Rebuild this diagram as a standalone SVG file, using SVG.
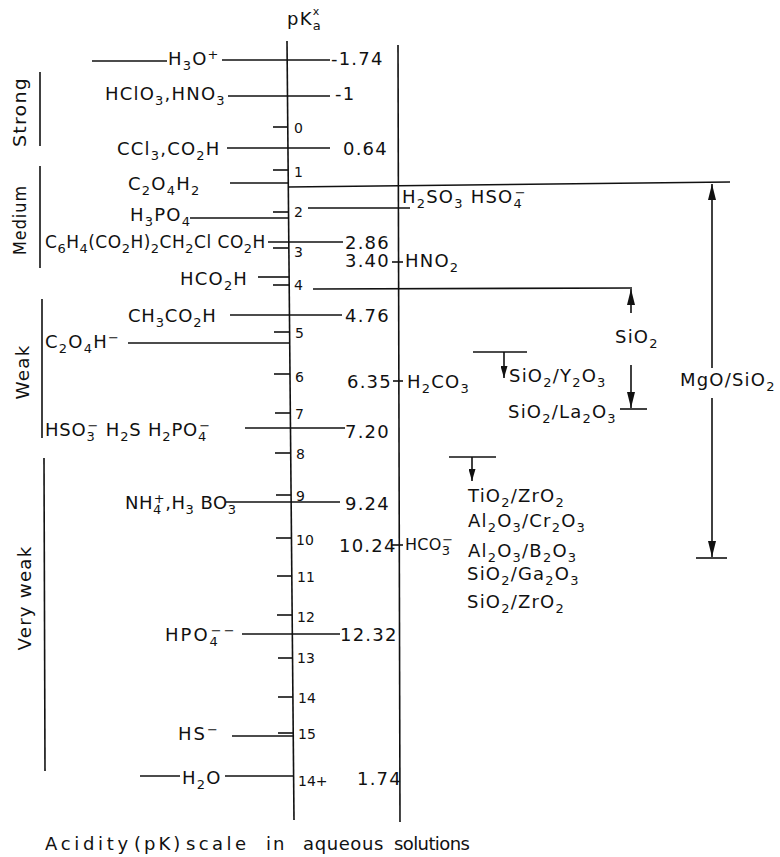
<svg xmlns="http://www.w3.org/2000/svg" width="780" height="857" viewBox="0 0 780 857">
<style>
  .t { font-family: "DejaVu Sans", "Liberation Sans", sans-serif; font-size: 18px; letter-spacing: 1.2px; fill: #111; }
  .n { font-family: "DejaVu Sans", "Liberation Sans", sans-serif; font-size: 14px; fill: #111; }
  .s { font-size: 13px; }
  .ss { font-size: 11px; }
  .cap { font-family: "DejaVu Sans", "Liberation Sans", sans-serif; font-size: 18px; fill: #111; }
  line, path.l { stroke: #111; stroke-width: 1.6; fill: none; }
</style>
<defs>
  <marker id="arr" viewBox="0 0 16 8" refX="16" refY="4" markerWidth="16" markerHeight="8" markerUnits="userSpaceOnUse" orient="auto">
    <path d="M0,0 L16,4 L0,8 z" fill="#111"/>
  </marker>
  <marker id="arrS" viewBox="0 0 12 7" refX="12" refY="3.5" markerWidth="12" markerHeight="7" markerUnits="userSpaceOnUse" orient="auto">
    <path d="M0,0 L12,3.5 L0,7 z" fill="#111"/>
  </marker>
</defs>
<rect width="780" height="857" fill="#fff"/>

<!-- axis title -->
<g id="axis-title">
  <text class="t" x="287" y="25">pK<tspan class="s" dy="5">a</tspan><tspan class="ss" dx="-9" dy="-15">x</tspan></text>
</g>

<!-- axes and ticks -->
<g id="axes">
  <line x1="287" y1="41" x2="294" y2="820"/>
  <line x1="398" y1="45" x2="400" y2="822"/>
  <line x1="273" y1="127" x2="287.8" y2="127"/>
  <line x1="273" y1="170" x2="288.2" y2="170"/>
  <line x1="273" y1="212" x2="288.5" y2="212"/>
  <line x1="273" y1="248" x2="288.9" y2="248"/>
  <line x1="273" y1="285" x2="289.2" y2="285"/>
  <line x1="274" y1="332" x2="289.6" y2="332"/>
  <line x1="274" y1="374" x2="290" y2="374"/>
  <line x1="275" y1="413" x2="290.3" y2="413"/>
  <line x1="275" y1="453" x2="290.7" y2="453"/>
  <line x1="276" y1="495" x2="291.1" y2="495"/>
  <line x1="276" y1="538" x2="291.5" y2="538"/>
  <line x1="277" y1="576" x2="291.8" y2="576"/>
  <line x1="277" y1="615" x2="292.2" y2="615"/>
  <line x1="278" y1="658" x2="292.5" y2="658"/>
  <line x1="278" y1="697" x2="292.9" y2="697"/>
  <line x1="278" y1="733" x2="293.2" y2="733"/>
  <text class="n" x="294" y="133">0</text>
  <text class="n" x="294" y="177">1</text>
  <text class="n" x="294" y="217">2</text>
  <text class="n" x="294" y="257">3</text>
  <text class="n" x="294" y="290">4</text>
  <text class="n" x="295" y="338">5</text>
  <text class="n" x="295" y="382">6</text>
  <text class="n" x="295" y="419">7</text>
  <text class="n" x="296" y="459">8</text>
  <text class="n" x="296" y="501">9</text>
  <text class="n" x="296" y="545">10</text>
  <text class="n" x="297" y="582">11</text>
  <text class="n" x="297" y="622">12</text>
  <text class="n" x="297" y="663">13</text>
  <text class="n" x="298" y="703">14</text>
  <text class="n" x="298" y="739">15</text>
  <text class="n" x="298" y="786">14+</text>
</g>

<!-- category brackets -->
<g id="categories">
  <line x1="40" y1="72" x2="40" y2="146"/>
  <line x1="40" y1="166" x2="40" y2="268"/>
  <line x1="42" y1="299" x2="42" y2="438"/>
  <line x1="44" y1="458" x2="45" y2="771"/>
  <text class="t" transform="translate(26,112) rotate(-90)" text-anchor="middle" textLength="70" lengthAdjust="spacingAndGlyphs">Strong</text>
  <text class="t" transform="translate(26,220) rotate(-90)" text-anchor="middle" textLength="70" lengthAdjust="spacingAndGlyphs">Medium</text>
  <text class="t" transform="translate(29,372) rotate(-90)" text-anchor="middle" textLength="55" lengthAdjust="spacingAndGlyphs">Weak</text>
  <text class="t" transform="translate(31,598) rotate(-90)" text-anchor="middle" textLength="105" lengthAdjust="spacingAndGlyphs">Very weak</text>
</g>

<!-- connectors -->
<g id="connectors">
  <line x1="92" y1="61" x2="167" y2="61"/>
  <line x1="222" y1="60" x2="330" y2="60"/>
  <line x1="228" y1="96" x2="330" y2="96"/>
  <line x1="227" y1="148" x2="330" y2="148"/>
  <line x1="230" y1="183" x2="288" y2="183"/>
  <line x1="288" y1="187" x2="730" y2="182"/>
  <line x1="308" y1="208" x2="410" y2="208"/>
  <line x1="190" y1="218" x2="288.5" y2="218"/>
  <line x1="268" y1="242" x2="343" y2="242"/>
  <line x1="258" y1="277" x2="289" y2="277"/>
  <line x1="313" y1="289" x2="632" y2="288"/>
  <line x1="230" y1="315" x2="342" y2="315"/>
  <line x1="128" y1="343" x2="289.6" y2="343"/>
  <line x1="245" y1="428" x2="345" y2="428"/>
  <line x1="226" y1="502" x2="340" y2="502"/>
  <line x1="242" y1="634" x2="340" y2="634"/>
  <line x1="232" y1="736" x2="293.2" y2="736"/>
  <line x1="140" y1="776" x2="180" y2="776"/>
  <line x1="225" y1="776" x2="293.6" y2="776"/>
  <line x1="392" y1="262" x2="403" y2="262"/>
  <line x1="393" y1="381" x2="403" y2="381"/>
  <line x1="391" y1="545" x2="403" y2="545"/>
  <!-- SiO2 range -->
  <line x1="631" y1="313" x2="631" y2="289" marker-end="url(#arr)"/>
  <line x1="631" y1="365" x2="631" y2="408" marker-end="url(#arr)"/>
  <line x1="620" y1="409" x2="647" y2="409"/>
  <!-- SiO2/Y2O3 -->
  <line x1="473" y1="352" x2="527" y2="352"/>
  <line x1="504" y1="352" x2="504" y2="378" marker-end="url(#arrS)"/>
  <!-- TiO2/ZrO2 group -->
  <line x1="449" y1="457" x2="496" y2="457"/>
  <line x1="472" y1="457" x2="472" y2="481" marker-end="url(#arrS)"/>
  <!-- MgO/SiO2 -->
  <line x1="712" y1="368" x2="712" y2="184" marker-end="url(#arr)"/>
  <line x1="712" y1="398" x2="712" y2="557" marker-end="url(#arr)"/>
  <line x1="696" y1="558" x2="727" y2="558"/>
</g>

<!-- left labels -->
<g id="acids-left">
  <text class="t" x="168" y="65">H<tspan class="s" dy="5">3</tspan><tspan dy="-5">O</tspan><tspan class="s" dy="-6">+</tspan></text>
  <text class="t" x="105" y="100">HClO<tspan class="s" dy="5">3</tspan><tspan dy="-5">,HNO</tspan><tspan class="s" dy="5">3</tspan></text>
  <text class="t" x="117" y="155">CCl<tspan class="s" dy="5">3</tspan><tspan dy="-5">,CO</tspan><tspan class="s" dy="5">2</tspan><tspan dy="-5">H</tspan></text>
  <text class="t" x="128" y="190">C<tspan class="s" dy="5">2</tspan><tspan dy="-5">O</tspan><tspan class="s" dy="5">4</tspan><tspan dy="-5">H</tspan><tspan class="s" dy="5">2</tspan></text>
  <text class="t" x="130" y="221">H<tspan class="s" dy="5">3</tspan><tspan dy="-5">PO</tspan><tspan class="s" dy="5">4</tspan></text>
  <text class="t" x="45" y="248" style="font-size:17px;letter-spacing:0.5px">C<tspan class="s" dy="5">6</tspan><tspan dy="-5">H</tspan><tspan class="s" dy="5">4</tspan><tspan dy="-5">(CO</tspan><tspan class="s" dy="5">2</tspan><tspan dy="-5">H)</tspan><tspan class="s" dy="5">2</tspan><tspan dy="-5">CH</tspan><tspan class="s" dy="5">2</tspan><tspan dy="-5">Cl CO</tspan><tspan class="s" dy="5">2</tspan><tspan dy="-5">H</tspan></text>
  <text class="t" x="180" y="285">HCO<tspan class="s" dy="5">2</tspan><tspan dy="-5">H</tspan></text>
  <text class="t" x="128" y="322" style="letter-spacing:0.8px">CH<tspan class="s" dy="5">3</tspan><tspan dy="-5">CO</tspan><tspan class="s" dy="5">2</tspan><tspan dy="-5">H</tspan></text>
  <text class="t" x="45" y="348">C<tspan class="s" dy="5">2</tspan><tspan dy="-5">O</tspan><tspan class="s" dy="5">4</tspan><tspan dy="-5">H</tspan><tspan class="s" dy="-6">−</tspan></text>
  <text class="t" x="45" y="436" style="letter-spacing:0.8px">HSO<tspan class="s" dy="5">3</tspan><tspan class="s" dx="-8" dy="-11">−</tspan><tspan dy="6"> H</tspan><tspan class="s" dy="5">2</tspan><tspan dy="-5">S H</tspan><tspan class="s" dy="5">2</tspan><tspan dy="-5">PO</tspan><tspan class="s" dy="5">4</tspan><tspan class="s" dx="-8" dy="-11">−</tspan></text>
  <text class="t" x="125" y="509" style="letter-spacing:0.5px">NH<tspan class="s" dy="5">4</tspan><tspan class="s" dx="-8" dy="-11">+</tspan><tspan dy="6">,H</tspan><tspan class="s" dy="5">3</tspan><tspan dy="-5"> BO</tspan><tspan class="s" dy="5">3</tspan></text>
  <text class="t" x="165" y="641" style="letter-spacing:2px">HPO<tspan class="s" dy="5">4</tspan><tspan class="s" dx="-9" dy="-11">−−</tspan></text>
  <text class="t" x="178" y="740" style="letter-spacing:2px">HS<tspan class="s" dy="-6">−</tspan></text>
  <text class="t" x="182" y="784">H<tspan class="s" dy="5">2</tspan><tspan dy="-5">O</tspan></text>
</g>

<!-- pK values -->
<g id="values">
  <text class="t" x="331" y="65">-1.74</text>
  <text class="t" x="335" y="100">-1</text>
  <text class="t" x="343" y="155">0.64</text>
  <text class="t" x="345" y="249">2.86</text>
  <text class="t" x="345" y="267">3.40</text>
  <text class="t" x="345" y="322">4.76</text>
  <text class="t" x="347" y="388">6.35</text>
  <text class="t" x="345" y="438">7.20</text>
  <text class="t" x="345" y="510">9.24</text>
  <text class="t" x="339" y="552">10.24</text>
  <text class="t" x="340" y="641">12.32</text>
  <text class="t" x="357" y="785">1.74</text>
</g>

<!-- right side acids -->
<g id="acids-right">
  <text class="t" x="402" y="203">H<tspan class="s" dy="5">2</tspan><tspan dy="-5">SO</tspan><tspan class="s" dy="5">3</tspan><tspan dy="-5">  HSO</tspan><tspan class="s" dy="5">4</tspan><tspan class="s" dx="-8" dy="-11">−</tspan></text>
  <text class="t" x="405" y="267">HNO<tspan class="s" dy="5">2</tspan></text>
  <text class="t" x="407" y="388">H<tspan class="s" dy="5">2</tspan><tspan dy="-5">CO</tspan><tspan class="s" dy="5">3</tspan></text>
  <text class="t" x="405" y="550" style="font-size:16px;letter-spacing:0.3px">HCO<tspan class="s" dy="5">3</tspan><tspan class="s" dx="-8" dy="-11">−</tspan></text>
</g>

<!-- oxide labels -->
<g id="oxides">
  <text class="t" x="615" y="343">SiO<tspan class="s" dy="5">2</tspan></text>
  <text class="t" x="509" y="382">SiO<tspan class="s" dy="5">2</tspan><tspan dy="-5">/Y</tspan><tspan class="s" dy="5">2</tspan><tspan dy="-5">O</tspan><tspan class="s" dy="5">3</tspan></text>
  <text class="t" x="508" y="418">SiO<tspan class="s" dy="5">2</tspan><tspan dy="-5">/La</tspan><tspan class="s" dy="5">2</tspan><tspan dy="-5">O</tspan><tspan class="s" dy="5">3</tspan></text>
  <text class="t" x="680" y="386">MgO/SiO<tspan class="s" dy="5">2</tspan></text>
  <text class="t" x="468" y="502">TiO<tspan class="s" dy="5">2</tspan><tspan dy="-5">/ZrO</tspan><tspan class="s" dy="5">2</tspan></text>
  <text class="t" x="468" y="527">Al<tspan class="s" dy="5">2</tspan><tspan dy="-5">O</tspan><tspan class="s" dy="5">3</tspan><tspan dy="-5">/Cr</tspan><tspan class="s" dy="5">2</tspan><tspan dy="-5">O</tspan><tspan class="s" dy="5">3</tspan></text>
  <text class="t" x="468" y="557">Al<tspan class="s" dy="5">2</tspan><tspan dy="-5">O</tspan><tspan class="s" dy="5">3</tspan><tspan dy="-5">/B</tspan><tspan class="s" dy="5">2</tspan><tspan dy="-5">O</tspan><tspan class="s" dy="5">3</tspan></text>
  <text class="t" x="467" y="580">SiO<tspan class="s" dy="5">2</tspan><tspan dy="-5">/Ga</tspan><tspan class="s" dy="5">2</tspan><tspan dy="-5">O</tspan><tspan class="s" dy="5">3</tspan></text>
  <text class="t" x="467" y="608">SiO<tspan class="s" dy="5">2</tspan><tspan dy="-5">/ZrO</tspan><tspan class="s" dy="5">2</tspan></text>
</g>

<!-- caption -->
<g id="caption">
  <text class="cap" y="850"><tspan x="45" style="letter-spacing:3.7px">Acidity</tspan> <tspan x="134" style="letter-spacing:3px">(pK)</tspan> <tspan x="186" style="letter-spacing:3.4px">scale</tspan> <tspan x="266" style="letter-spacing:2px">in</tspan> <tspan x="303" style="letter-spacing:0.6px">aqueous</tspan> <tspan x="394" style="letter-spacing:-0.6px">solutions</tspan></text>
</g>
</svg>
